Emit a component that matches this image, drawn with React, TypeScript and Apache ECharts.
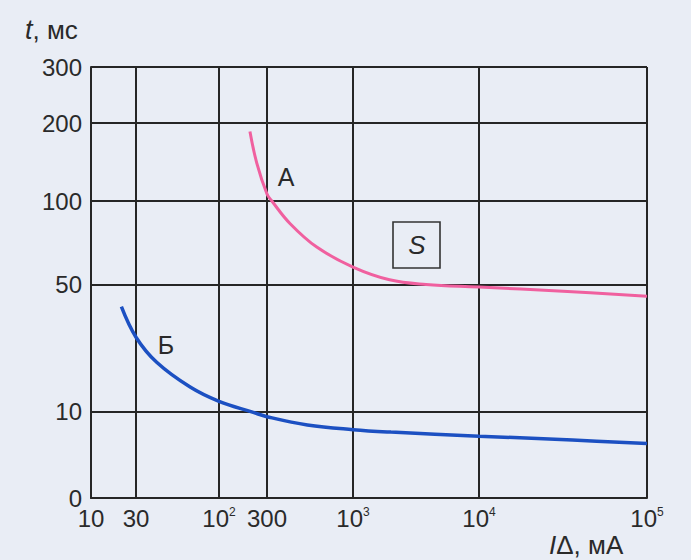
import React, { useEffect, useRef } from 'react';
import * as echarts from 'echarts';

// ---- data ----
const X_TICKS = [10, 30, 100, 300, 1000, 10000, 100000];
const X_TICK_LABELS = ['10', '30', '10|2', '300', '10|3', '10|4', '10|5'];
const Y_TICKS = [0, 10, 50, 100, 200, 300];
const Y_TICK_LABELS = ['0', '10', '50', '100', '200', '300'];

// curve А (pink): current, mA -> time, ms
const CURVE_A_I = [203, 237, 300, 321, 415, 602, 1000, 1950, 3800, 10000, 31600, 100000];
const CURVE_A_T = [189, 149, 109, 100, 86.4, 72.4, 60.4, 52.8, 50, 49.2, 47.9, 46.3];
// curve Б (blue)
const CURVE_B_I = [21, 30, 40.5, 65.8, 100, 219, 300, 528, 1000, 2000, 10000, 36000, 100000];
const CURVE_B_T = [43, 33.4, 25.5, 17.7, 13.2, 9.9, 9.4, 8.45, 7.9, 7.62, 7.15, 6.7, 6.3];

// ---- layout of the printed (non-uniform) scales, in axis units ----
const X_TICK_POS = [0, 45, 128, 176, 262, 388, 556];
const Y_TICK_POS = [0, 86.5, 213.5, 297, 375, 431];

function mapX(v: number): number {
  for (let i = 0; i < X_TICKS.length - 1; i++) {
    const a = X_TICKS[i], b = X_TICKS[i + 1];
    if (v <= b || i === X_TICKS.length - 2) {
      const f = (Math.log(v) - Math.log(a)) / (Math.log(b) - Math.log(a));
      return X_TICK_POS[i] + f * (X_TICK_POS[i + 1] - X_TICK_POS[i]);
    }
  }
  return 0;
}
function mapY(v: number): number {
  for (let i = 0; i < Y_TICKS.length - 1; i++) {
    const a = Y_TICKS[i], b = Y_TICKS[i + 1];
    if (v <= b || i === Y_TICKS.length - 2) {
      const f = (v - a) / (b - a);
      return Y_TICK_POS[i] + f * (Y_TICK_POS[i + 1] - Y_TICK_POS[i]);
    }
  }
  return 0;
}

const FONT = '"Liberation Sans", Arial, sans-serif';
const GRID_COLOR = '#262626';
const TEXT_COLOR = '#2a2a2a';

export default function App() {
  const ref = useRef<HTMLDivElement>(null);
  useEffect(() => {
    if (!ref.current) return;
    const chart = echarts.init(ref.current, null, { renderer: 'svg' });
    const xLabel = (val: number) => {
      const idx = X_TICK_POS.findIndex((p) => Math.abs(p - val) < 0.01);
      if (idx < 0) return '';
      const s = X_TICK_LABELS[idx];
      if (s.includes('|')) {
        const [b, e] = s.split('|');
        return `{b|${b}}{s|${e}}`;
      }
      return `{b|${s}}`;
    };
    const yLabel = (val: number) => {
      const idx = Y_TICK_POS.findIndex((p) => Math.abs(p - val) < 0.01);
      return idx < 0 ? '' : Y_TICK_LABELS[idx];
    };
    const option: any = {
      animation: false,
      backgroundColor: '#e9edf5',
      grid: { left: 91, right: 44, top: 67, bottom: 62, outerBoundsMode: 'none' },
      xAxis: {
        type: 'value',
        min: 0,
        max: X_TICK_POS[X_TICK_POS.length - 1],
        axisLine: { show: true, lineStyle: { color: GRID_COLOR, width: 2 } },
        axisTick: { show: false, customValues: X_TICK_POS },
        axisLabel: {
          customValues: X_TICK_POS,
          formatter: xLabel,
          margin: 8,
          color: TEXT_COLOR,
          rich: {
            b: { fontFamily: FONT, fontSize: 24, color: TEXT_COLOR },
            s: { fontFamily: FONT, fontSize: 12, color: TEXT_COLOR, verticalAlign: 'top' },
          },
        },
        splitLine: { show: true, lineStyle: { color: GRID_COLOR, width: 2 } },
      },
      yAxis: {
        type: 'value',
        min: 0,
        max: Y_TICK_POS[Y_TICK_POS.length - 1],
        axisLine: { show: true, lineStyle: { color: GRID_COLOR, width: 2 } },
        axisTick: { show: false, customValues: Y_TICK_POS },
        axisLabel: {
          customValues: Y_TICK_POS,
          formatter: yLabel,
          margin: 9,
          color: TEXT_COLOR,
          fontFamily: FONT,
          fontSize: 24,
        },
        splitLine: { show: true, lineStyle: { color: GRID_COLOR, width: 2 } },
      },
      graphic: [
        {
          type: 'text',
          left: 25,
          top: 16,
          style: {
            text: '{i|t}{n|, мс}',
            rich: {
              i: { fontFamily: FONT, fontSize: 27, fontStyle: 'italic', fill: TEXT_COLOR },
              n: { fontFamily: FONT, fontSize: 26, fill: TEXT_COLOR },
            },
          },
        },
        {
          type: 'text',
          left: 549,
          top: 532,
          style: {
            text: '{i|I}{n|Δ, мА}',
            rich: {
              i: { fontFamily: FONT, fontSize: 26, fontStyle: 'italic', fill: TEXT_COLOR },
              n: { fontFamily: FONT, fontSize: 26, fill: TEXT_COLOR },
            },
          },
        },
        {
          type: 'text',
          x: 286,
          y: 177,
          style: { text: 'А', fontFamily: FONT, fontSize: 25, fill: TEXT_COLOR, align: 'center', verticalAlign: 'middle' },
        },
        {
          type: 'text',
          x: 166,
          y: 345,
          style: { text: 'Б', fontFamily: FONT, fontSize: 25, fill: TEXT_COLOR, align: 'center', verticalAlign: 'middle' },
        },
        {
          type: 'rect',
          shape: { x: 393, y: 222, width: 47, height: 46 },
          style: { fill: 'none', stroke: '#333', lineWidth: 1.6 },
        },
        {
          type: 'text',
          x: 417,
          y: 245,
          style: { text: 'S', fontFamily: FONT, fontStyle: 'italic', fontSize: 26, fill: TEXT_COLOR, align: 'center', verticalAlign: 'middle' },
        },
      ],
      series: [
        {
          name: 'А',
          type: 'line',
          data: CURVE_A_I.map((v, i) => [mapX(v), mapY(CURVE_A_T[i])]),
          smooth: 0.4,
          showSymbol: false,
          lineStyle: { color: '#f0609f', width: 3 },
        },
        {
          name: 'Б',
          type: 'line',
          data: CURVE_B_I.map((v, i) => [mapX(v), mapY(CURVE_B_T[i])]),
          smooth: 0.4,
          showSymbol: false,
          lineStyle: { color: '#1c50c2', width: 3.5 },
        },
      ],
    };
    chart.setOption(option);
    return () => chart.dispose();
  }, []);
  return <div ref={ref} style={{ position: 'absolute', left: 0, top: 0, width: 691, height: 560 }} />;
}
